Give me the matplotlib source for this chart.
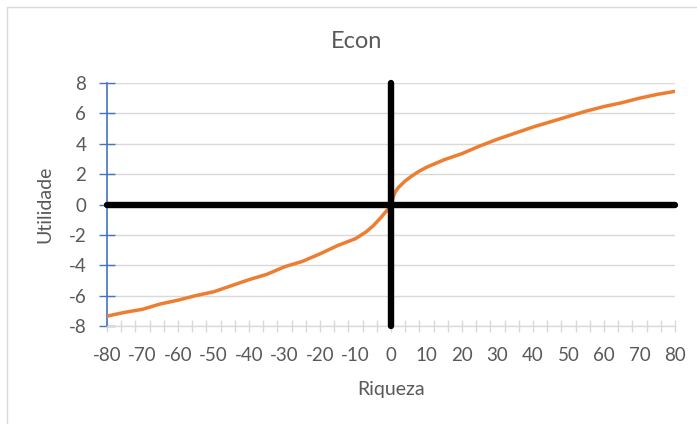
import matplotlib.pyplot as plt
from matplotlib.patches import Rectangle
from matplotlib.ticker import MultipleLocator

# values
riqueza = [-80, -75, -70, -65, -60, -55, -50, -45, -40, -35, -30, -25, -20,
           -15, -10, -7, -5, -3, -1, 0, 1, 2, 4, 6, 8, 10, 15, 20, 25, 30,
           35, 40, 45, 50, 55, 60, 65, 70, 75, 80]
utilidade = [-7.35, -7.1, -6.9, -6.55, -6.3, -6.0, -5.75, -5.35, -4.95, -4.6,
             -4.1, -3.75, -3.25, -2.7, -2.25, -1.8, -1.4, -0.9, -0.35, 0.0,
             0.75, 1.1, 1.55, 1.9, 2.2, 2.45, 2.95, 3.35, 3.85, 4.3, 4.7,
             5.1, 5.45, 5.8, 6.15, 6.45, 6.7, 7.0, 7.25, 7.45]
eixo_x = [-80, 80]
eixo_y = [-8, 8]

plt.rcParams['font.family'] = ['Lato', 'DejaVu Sans']
plt.rcParams['axes.unicode_minus'] = False
cinza = '#595959'

fig = plt.figure(figsize=(6.97, 4.24), dpi=100)
fig.patches.append(Rectangle((7 / 697, -0.1), 1.2, 1.1 - 7 / 424,
                             transform=fig.transFigure, fill=False,
                             edgecolor='#D9D9D9', linewidth=1))
ax = fig.add_axes([107 / 697, 98 / 424, 568 / 697, 243 / 424])

ax.plot(riqueza, utilidade, color='#ED7D31', linewidth=2.5, zorder=3)
ax.plot(eixo_x, [0, 0], color='black', linewidth=4.6,
        solid_capstyle='round', zorder=4, clip_on=False)
ax.plot([0, 0], eixo_y, color='black', linewidth=4.6,
        solid_capstyle='round', zorder=4, clip_on=False)

ax.set_xlim(-80, 80)
ax.set_ylim(-8, 8)
ax.set_yticks(range(-8, 9, 2))
ax.set_xticks(range(-80, 81, 10))
ax.xaxis.set_minor_locator(MultipleLocator(4))
ax.xaxis.remove_overlapping_locs = False
ax.grid(axis='y', color='#D9D9D9', linewidth=1)
ax.set_axisbelow(True)

for s in ['top', 'right']:
    ax.spines[s].set_visible(False)
ax.spines['left'].set_color('#4472C4')
ax.spines['left'].set_linewidth(1.2)
ax.spines['bottom'].set_color('#D9D9D9')
ax.spines['bottom'].set_linewidth(1)

ax.tick_params(axis='y', direction='inout', length=12, width=1,
               color='#4472C4', labelcolor=cinza, labelsize=13.5, pad=9)
ax.tick_params(axis='x', which='major', length=0, labelcolor=cinza,
               labelsize=13.5, pad=15)
ax.tick_params(axis='x', which='minor', direction='inout', length=9,
               width=1, color='#D9D9D9')

fig.text(357 / 697, 1 - 42 / 424, 'Econ', color=cinza, fontsize=17,
         ha='center', va='center')

ax.set_xlabel('Riqueza', color=cinza, fontsize=14)
ax.set_ylabel('Utilidade', color=cinza, fontsize=14)
ax.xaxis.set_label_coords(0.5, -(390 - 326) / 243)
ax.yaxis.set_label_coords(-(107 - 45) / 568, 0.5)
ax.xaxis.label.set_va('center')
ax.yaxis.label.set_va('center')

fig.savefig('out.png', dpi=100)
